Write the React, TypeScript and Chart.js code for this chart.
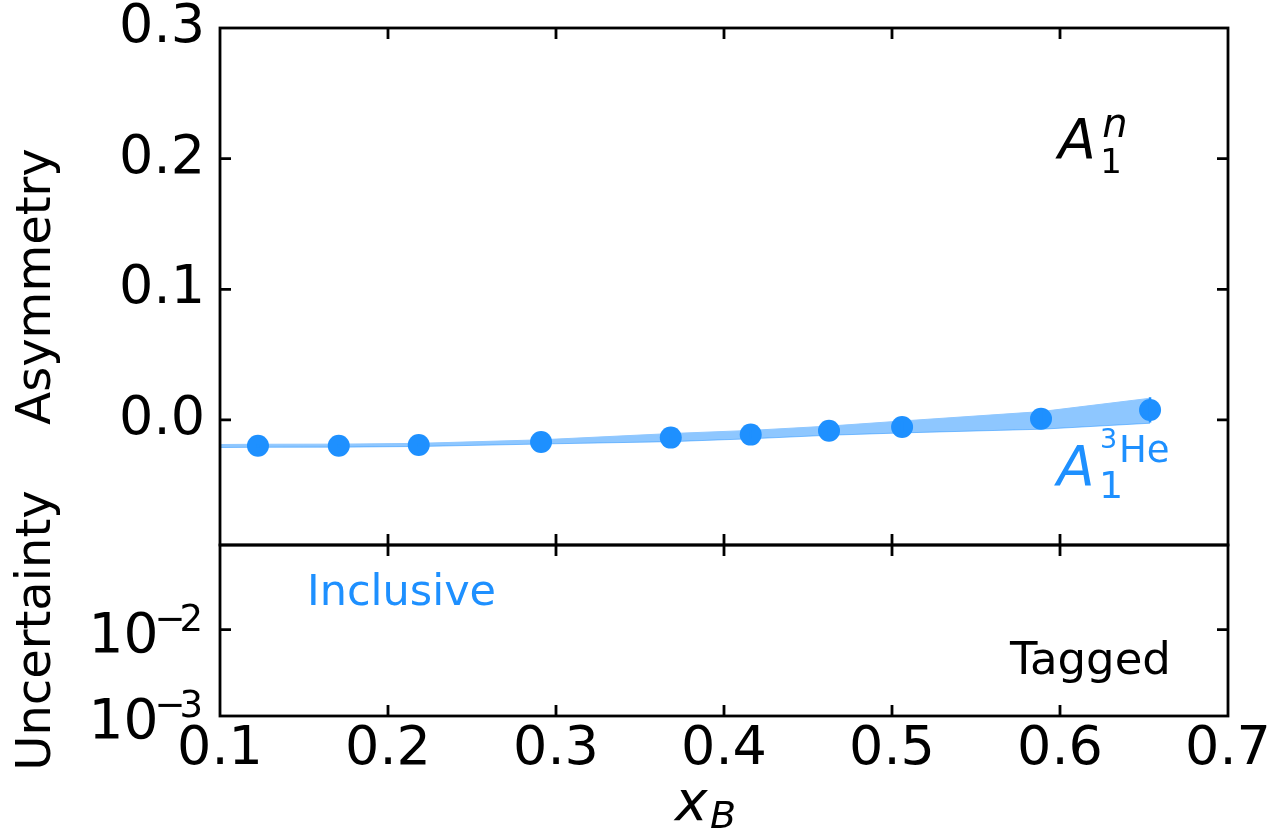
import React, { useEffect, useRef } from "react";
import { Chart, registerables } from "chart.js";

Chart.register(...registerables);

// ---- data ----
const xB = [0.1226, 0.1707, 0.2183, 0.2911, 0.3683, 0.4159, 0.4625, 0.506, 0.5887, 0.6536];
const asymmetry = [-0.0197, -0.0197, -0.0191, -0.0168, -0.0135, -0.0112, -0.0082, -0.0054, 0.001, 0.0077];
const asymErr = [0.0011, 0.0011, 0.0012, 0.0016, 0.003, 0.0032, 0.0035, 0.0044, 0.0067, 0.0096];

const bandX = [0.1, 0.1226, 0.1707, 0.2183, 0.2911, 0.3683, 0.4159, 0.4625, 0.506, 0.5887, 0.6536];
const bandUpper = [-0.0188, -0.0186, -0.0185, -0.0179, -0.0152, -0.0104, -0.008, -0.0047, -0.0008, 0.0064, 0.0166];
const bandLower = [-0.0211, -0.0209, -0.0208, -0.0203, -0.0184, -0.0166, -0.0144, -0.0117, -0.0099, -0.0071, -0.0025];

const xTicks = [0.1, 0.2, 0.3, 0.4, 0.5, 0.6, 0.7];
const asymTicks = [0.0, 0.1, 0.2, 0.3];
const uncTicks = [0.001, 0.01];
const uncTickExp = ["3", "2"];

const X_MIN = 0.1;
const X_MAX = 0.7;
const ASYM_MIN = -0.0957;
const ASYM_MAX = 0.3;
const UNC_MIN = 0.001;
const UNC_MAX = 0.095;

const BLUE = "#1e90ff";
const BAND = "rgba(30,144,255,0.5)";
const FONT = '"DejaVu Sans", sans-serif';

const framePlugin = {
  id: "framePlugin",
  afterDatasetsDraw(chart: any) {
    const ctx = chart.ctx;
    const xs = chart.scales.x;
    const ya = chart.scales.yA;
    ctx.save();
    ctx.strokeStyle = BLUE;
    ctx.lineWidth = 2.5;
    ctx.beginPath();
    xB.forEach((x, i) => {
      const px = xs.getPixelForValue(x);
      ctx.moveTo(px, ya.getPixelForValue(asymmetry[i] - asymErr[i]));
      ctx.lineTo(px, ya.getPixelForValue(asymmetry[i] + asymErr[i]));
    });
    ctx.stroke();
    ctx.restore();
  },
  afterDraw(chart: any) {
    const ctx = chart.ctx;
    const xs = chart.scales.x;
    const ya = chart.scales.yA;
    const yu = chart.scales.yU;
    const L = chart.chartArea.left;
    const R = chart.chartArea.right;
    const T = 11;
    ctx.save();
    ctx.strokeStyle = "#000";
    ctx.lineWidth = 2.8;
    const panels = [
      { s: ya, ticks: asymTicks.map((v) => ya.getPixelForValue(v)) },
      { s: yu, ticks: uncTicks.map((v) => yu.getPixelForValue(v)) },
    ];
    for (const p of panels) {
      const top = p.s.top;
      const bottom = p.s.bottom;
      ctx.strokeRect(L, top, R - L, bottom - top);
      ctx.beginPath();
      for (const py of p.ticks) {
        if (py > top + 2 && py < bottom - 2) {
          ctx.moveTo(L, py);
          ctx.lineTo(L + T, py);
          ctx.moveTo(R, py);
          ctx.lineTo(R - T, py);
        }
      }
      for (const v of xTicks) {
        const px = xs.getPixelForValue(v);
        if (px > L + 2 && px < R - 2) {
          ctx.moveTo(px, top);
          ctx.lineTo(px, top + T);
          ctx.moveTo(px, bottom);
          ctx.lineTo(px, bottom - T);
        }
      }
      ctx.stroke();
    }

    // log-axis tick labels 10^{-n}
    ctx.fillStyle = "#000";
    ctx.textBaseline = "alphabetic";
    ctx.textAlign = "left";
    uncTicks.forEach((v, i) => {
      const py = yu.getPixelForValue(v);
      const right = L - 19;
      ctx.font = `37px ${FONT}`;
      const digW = ctx.measureText(uncTickExp[i]).width;
      const minusW = ctx.measureText("\u2212").width;
      const digX = right - digW + 2;
      const minusX = digX - minusW + 6;
      ctx.fillText(uncTickExp[i], digX, py + 1);
      ctx.fillText("\u2212", minusX, py + 1);
      ctx.font = `55px ${FONT}`;
      const baseW = ctx.measureText("10").width;
      ctx.fillText("10", minusX - baseW + 4, py + 22);
    });

    // A_1^n
    {
      const ax = xs.getPixelForValue(0.599);
      const ay = ya.getPixelForValue(0.2005);
      ctx.fillStyle = "#000";
      ctx.font = `italic 55px ${FONT}`;
      ctx.fillText("A", ax, ay);
      ctx.font = `34px ${FONT}`;
      ctx.fillText("1", ax + 42, ay + 15);
      ctx.font = `italic 40px ${FONT}`;
      ctx.fillText("n", ax + 44, ay - 21);
    }
    // A_1^{3He}
    {
      const ax = xs.getPixelForValue(0.5982);
      const ay = ya.getPixelForValue(-0.0497);
      ctx.fillStyle = BLUE;
      ctx.font = `italic 55px ${FONT}`;
      ctx.fillText("A", ax, ay);
      ctx.font = `38px ${FONT}`;
      ctx.fillText("1", ax + 42, ay + 13);
      ctx.font = `27px ${FONT}`;
      ctx.fillText("3", ax + 43, ay - 37);
      ctx.font = `37px ${FONT}`;
      ctx.fillText("He", ax + 62, ay - 23);
    }
    // panel labels
    ctx.font = `43px ${FONT}`;
    ctx.fillStyle = BLUE;
    ctx.fillText("Inclusive", xs.getPixelForValue(0.1518), yu.getPixelForValue(0.0194));
    ctx.fillStyle = "#000";
    ctx.font = `45px ${FONT}`;
    ctx.fillText("Tagged", xs.getPixelForValue(0.5702), yu.getPixelForValue(0.00304));

    // x-axis label x_B
    {
      const cx = (L + R) / 2;
      const by = chart.chartArea.bottom + 104;
      ctx.fillStyle = "#000";
      ctx.font = `italic 55px ${FONT}`;
      ctx.fillText("x", cx - 49, by);
      ctx.font = `italic 38px ${FONT}`;
      ctx.fillText("B", cx - 14, by + 8);
    }
    ctx.restore();
  },
};

export default function App() {
  const ref = useRef<HTMLCanvasElement | null>(null);
  useEffect(() => {
    if (!ref.current) return;
    const zeroPad = (s: any) => {
      s.paddingTop = 0;
      s.paddingBottom = 0;
      s.paddingLeft = 0;
      s.paddingRight = 0;
    };
    const chart = new Chart(ref.current, {
      type: "scatter",
      data: {
        datasets: [
          {
            label: "A1 3He",
            data: xB.map((x, i) => ({ x, y: asymmetry[i] })),
            yAxisID: "yA",
            backgroundColor: BLUE,
            borderColor: BLUE,
            borderWidth: 0,
            pointRadius: 11,
            pointHoverRadius: 11,
            showLine: false,
            order: 0,
          } as any,
          {
            label: "band upper",
            data: bandX.map((x, i) => ({ x, y: bandUpper[i] })),
            yAxisID: "yA",
            showLine: true,
            borderColor: "#8fc7ff",
            borderWidth: 1,
            backgroundColor: BAND,
            pointRadius: 0,
            fill: "+1",
            tension: 0,
            order: 1,
          } as any,
          {
            label: "band lower",
            data: bandX.map((x, i) => ({ x, y: bandLower[i] })),
            yAxisID: "yA",
            showLine: true,
            borderColor: "#8fc7ff",
            borderWidth: 1,
            pointRadius: 0,
            fill: false,
            tension: 0,
            order: 2,
          } as any,
        ],
      },
      options: {
        animation: false,
        responsive: false,
        devicePixelRatio: 1,
        events: [],
        layout: { padding: { top: 28, right: 44, left: 0, bottom: 0 } },
        plugins: {
          legend: { display: false },
          tooltip: { enabled: false },
        },
        scales: {
          x: {
            type: "linear",
            position: "bottom",
            min: X_MIN,
            max: X_MAX,
            grid: { display: false, drawTicks: false },
            border: { display: false },
            afterBuildTicks: (s: any) => {
              s.ticks = xTicks.map((v) => ({ value: v }));
            },
            afterFit: (s: any) => {
              s.height = 116;
              zeroPad(s);
            },
            ticks: {
              padding: 2,
              color: "#000",
              font: { family: FONT, size: 54 },
              maxRotation: 0,
              autoSkip: false,
              callback: (v: any) => Number(v).toFixed(1),
            },
          },
          yU: {
            type: "logarithmic",
            position: "left",
            stack: "panels",
            stackWeight: 171,
            min: UNC_MIN,
            max: UNC_MAX,
            grid: { display: false, drawTicks: false },
            border: { display: false },
            ticks: { display: false },
            title: {
              display: true,
              text: "Uncertainty",
              color: "#000",
              font: { family: FONT, size: 48 },
              padding: { top: 9, bottom: 0 },
            },
            afterFit: (s: any) => {
              s.width = 220;
              zeroPad(s);
            },
          },
          yA: {
            type: "linear",
            position: "left",
            stack: "panels",
            stackWeight: 517,
            min: ASYM_MIN,
            max: ASYM_MAX,
            grid: { display: false, drawTicks: false },
            border: { display: false },
            afterBuildTicks: (s: any) => {
              s.ticks = asymTicks.map((v) => ({ value: v }));
            },
            ticks: {
              padding: 15,
              color: "#000",
              font: { family: FONT, size: 54 },
              autoSkip: false,
              callback: (v: any) => Number(v).toFixed(1),
            },
            title: {
              display: true,
              text: "Asymmetry",
              color: "#000",
              font: { family: FONT, size: 48 },
              padding: { top: 9, bottom: 0 },
            },
            afterFit: (s: any) => {
              s.width = 220;
              zeroPad(s);
            },
          },
        } as any,
      },
      plugins: [framePlugin],
    });
    return () => chart.destroy();
  }, []);
  return (
    <div style={{ position: "absolute", left: 0, top: 0, width: 1272, height: 832, background: "#fff" }}>
      <canvas ref={ref} width={1272} height={832} style={{ width: 1272, height: 832, display: "block" }} />
    </div>
  );
}
